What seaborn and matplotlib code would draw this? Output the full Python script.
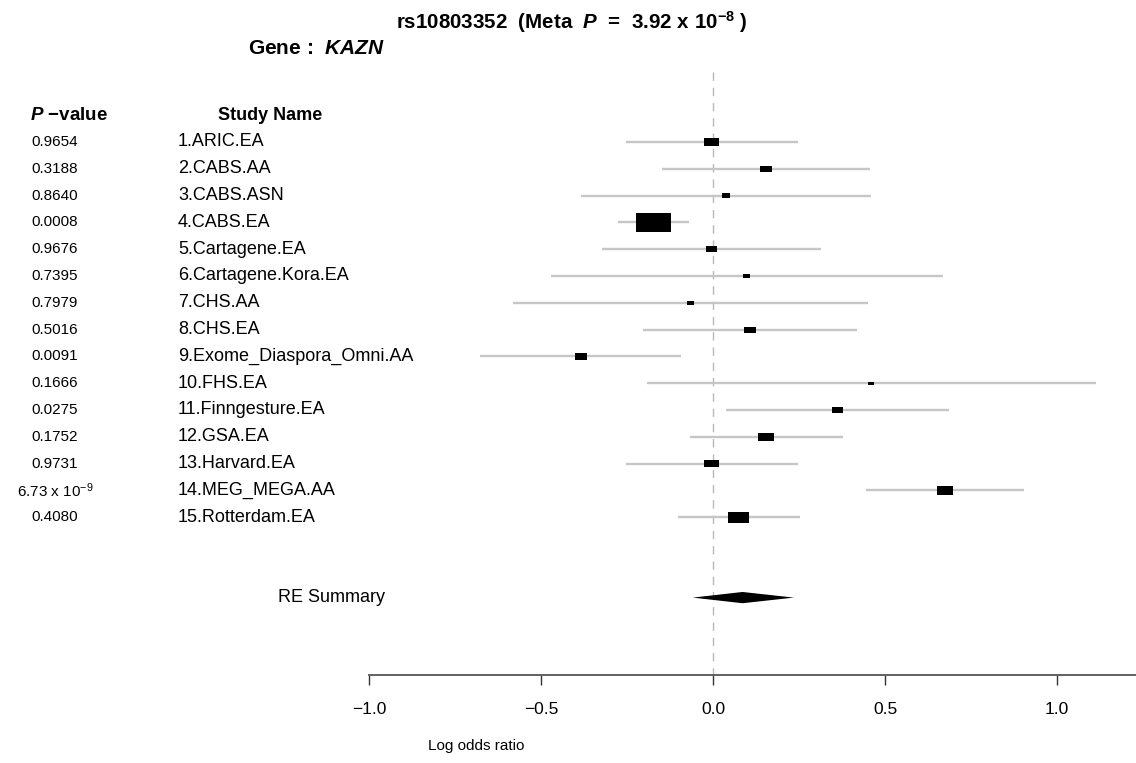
import numpy as np
import pandas as pd
import matplotlib
matplotlib.use("Agg")
import matplotlib.pyplot as plt
from matplotlib.path import Path
import seaborn as sns

# ---- study-level results (log odds ratio with 95% CI) ----
studies = ["1.ARIC.EA", "2.CABS.AA", "3.CABS.ASN", "4.CABS.EA", "5.Cartagene.EA",
           "6.Cartagene.Kora.EA", "7.CHS.AA", "8.CHS.EA", "9.Exome_Diaspora_Omni.AA",
           "10.FHS.EA", "11.Finngesture.EA", "12.GSA.EA", "13.Harvard.EA",
           "14.MEG_MEGA.AA", "15.Rotterdam.EA"]
pvalues = ["0.9654", "0.3188", "0.8640", "0.0008", "0.9676", "0.7395", "0.7979",
           "0.5016", "0.0091", "0.1666", "0.0275", "0.1752", "0.9731",
           r"6.73 x 10$^{-9}$", "0.4080"]
log_or = [-0.004, 0.153, 0.038, -0.173, -0.005, 0.097, -0.066, 0.107, -0.384,
          0.460, 0.363, 0.153, -0.004, 0.674, 0.074]
ci_low = [-0.254, -0.148, -0.384, -0.276, -0.322, -0.471, -0.580, -0.203, -0.677,
          -0.191, 0.039, -0.068, -0.254, 0.444, -0.101]
ci_high = [0.246, 0.457, 0.460, -0.069, 0.313, 0.668, 0.450, 0.420, -0.092,
           1.113, 0.685, 0.377, 0.248, 0.904, 0.253]

# random-effects summary
summary_label = "RE Summary"
summary_est = 0.086
summary_low = -0.059
summary_high = 0.235

snp = "rs10803352"
gene = "KAZN"
xticks = [-1.0, -0.5, 0.0, 0.5, 1.0]

# ---- style ----
sns.set_theme(style="white")
plt.rcParams["font.family"] = ["Liberation Sans", "DejaVu Sans"]
plt.rcParams["text.color"] = "black"
plt.rcParams["xtick.color"] = "black"
plt.rcParams["mathtext.fontset"] = "custom"
plt.rcParams["mathtext.rm"] = "Liberation Sans"
plt.rcParams["mathtext.it"] = "Liberation Sans:italic"
plt.rcParams["mathtext.bf"] = "Liberation Sans:bold"
plt.rcParams["mathtext.bfit"] = "Liberation Sans:bold:italic"

W, H = 1136, 763
fig = plt.figure(figsize=(W / 100, H / 100), dpi=100)

# pixel layout helpers
X0, XSCALE = 713.0, 344.0          # pixel of 0 and pixels per unit
ROW0, ROWSTEP = 142.0, 26.8        # pixel of first row and row spacing
AXIS_PX = 675.0


def fx(px):
    return px / W


def fy(py):
    return 1 - py / H


def row_of(py):
    return 1 + (py - ROW0) / ROWSTEP


ax = fig.add_axes([0, 1 - AXIS_PX / H, 1, AXIS_PX / H])

df = pd.DataFrame({"study": studies, "est": log_or, "lo": ci_low, "hi": ci_high})
df["row"] = np.arange(1, len(df) + 1)
# box width proportional to precision (1 / CI width), in points
df["box_pt"] = 0.72 * 7.2 / (df["hi"] - df["lo"])
df["area"] = df["box_pt"] ** 2

# confidence interval whiskers
ax.hlines(df["row"], df["lo"], df["hi"], color="#c6c6c6", lw=1.7, zorder=2)

# precision-weighted boxes (flat rectangles)
rect = Path([(-1, -0.53), (1, -0.53), (1, 0.53), (-1, 0.53), (-1, -0.53)],
            [Path.MOVETO, Path.LINETO, Path.LINETO, Path.LINETO, Path.CLOSEPOLY])
sns.scatterplot(data=df, x="est", y="row", size="area",
                sizes=(df["area"].min(), df["area"].max()),
                marker=rect, color="black", linewidth=0, legend=False,
                ax=ax, zorder=3)

# summary diamond
srow = len(df) + 3
dh = 0.21
ax.fill([summary_low, summary_est, summary_high, summary_est],
        [srow, srow - dh, srow, srow + dh], color="black", lw=0, zorder=3)

# null-effect reference line
ax.vlines(0, row_of(72), row_of(AXIS_PX), color="#b8b8b8", lw=1.0,
          linestyles=(0, (6, 5)), zorder=1)

ax.set_xlim(-X0 / XSCALE, (W - X0) / XSCALE)
ax.set_ylim(row_of(AXIS_PX), row_of(0))
ax.set_xlabel("")
ax.set_ylabel("")
ax.set_yticks([])
ax.set_xticks(xticks)
ax.set_xticklabels([f"{t:.1f}".replace("-", "\u2212") for t in xticks], fontsize=12.5)
for side in ["left", "right", "top"]:
    ax.spines[side].set_visible(False)
ax.spines["bottom"].set_bounds(-1.0, (W - X0) / XSCALE)
ax.spines["bottom"].set_color("#555555")
ax.spines["bottom"].set_linewidth(1.3)
ax.tick_params(axis="x", direction="out", length=7.5, width=1.0, color="#333333",
               labelcolor="black", pad=12, bottom=True)
ax.patch.set_alpha(0)

# ---- text columns ----
ytr = ax.get_yaxis_transform()
ax.text(fx(30), 0, "$\\mathbfit{P}$ \u2212value",
        transform=ytr, ha="left", va="center", fontsize=13.5, fontweight="bold")
ax.text(fx(218), 0, "Study Name", transform=ytr, ha="left", va="center",
        fontsize=13, fontweight="bold")
for r, (name, p) in enumerate(zip(studies, pvalues), start=1):
    ax.text(fx(55), r, p, transform=ytr, ha="center", va="center", fontsize=11)
    ax.text(fx(178), r, name, transform=ytr, ha="left", va="center", fontsize=13)
ax.text(fx(278), srow, summary_label, transform=ytr, ha="left", va="center",
        fontsize=13)

# ---- titles ----
fig.text(fx(572), fy(22),
         snp + r"  (Meta  $\mathbfit{P}$  =  3.92 x 10$^{\mathbf{-8}}$ )",
         ha="center", va="center", fontsize=14.8, fontweight="bold")
fig.text(fx(248), fy(48), r"Gene :  $\mathbfit{" + gene + "}$",
         ha="left", va="center", fontsize=15, fontweight="bold")
fig.text(fx(476), fy(746), "Log odds ratio", ha="center", va="center", fontsize=11)

fig.savefig("out.png", dpi=100, facecolor="white")
